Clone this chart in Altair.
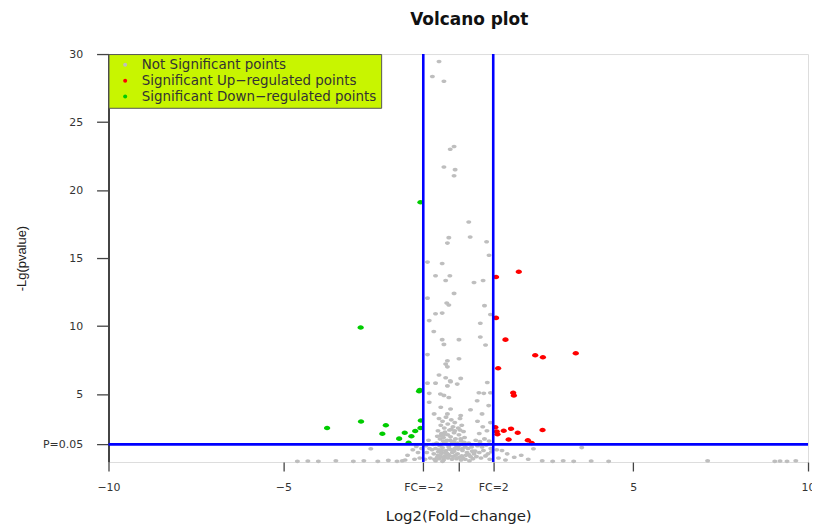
import json
import altair as alt
import pandas as pd

# ---------------- data ----------------
gray_x = [
    -0.55, -0.74, -0.41, -0.12, -0.23, -0.41, -0.09, -0.12, 0.30, 0.34, -0.27, -0.31, 0.81, 0.88,
    -0.88, -0.46, -0.65, -0.24, -0.36, 0.45, 0.71, -0.12, -0.88, -0.33, -0.27, 0.75, -0.65, -0.46,
    0.92, -0.83, 0.63, -0.70, -0.46, 0.02, 0.63, -0.41, 0.78, -0.88, 0.02, -0.31, -0.36, -0.31,
    -0.55, -0.36, 0.07, -0.88, -0.65, -0.22, -0.31, 0.83, -0.83, 0.59, 0.73, 0.92, -0.41, -0.27,
    -0.23, -0.03, -0.51, 0.54, -0.83, -0.5, -0.22, 0.35, 0.87, -0.69, -0.31, 0.07, 0.68,
    -0.55, -0.45, -0.35, -0.2, -0.1, 0.05, -0.5, -0.4, -0.3, -0.15, 0.0, 0.1,
    -0.58, -0.48, -0.38, -0.25, -0.12, 0.02, 0.15, -0.6, -0.52, -0.42, -0.32, -0.22, -0.08, 0.08, 0.18,
    -0.62, -0.5, -0.4, -0.28, -0.18, -0.05, 0.1, 0.2, -0.65, -0.55, -0.45, -0.35, -0.25, -0.12, 0.0, 0.12, 0.25,
    -0.7, -0.58, -0.48, -0.38, -0.28, -0.15, -0.02, 0.1, 0.22, 0.35, -0.8, -0.68, -0.55, -0.42, -0.3, -0.18, -0.05, 0.08, 0.2, 0.32,
    -0.9, -0.92, -0.85, -0.95, 0.4, 0.3,
    0.5, 0.62, 0.75, 0.88, 0.55, 0.68, 0.8, 0.93, 0.48, 0.6, 0.72, 0.85, 0.95, 0.52, 0.65, 0.78, 0.9, 0.6, 0.82, 0.7, 0.92, 0.55,
    -1.05, -1.15, -1.3, -1.45, -1.1, -1.25, -1.52, -1.2, 1.1, 1.25, 1.4, 1.6, 1.15, 1.8, 2.15, 2.0, 1.35, -2.5, 3.53,
    -4.6, -4.3, -4.0, -3.5, -3.0, -2.7, -2.3, -2.0, -1.75, -1.6, 2.4, 2.7, 3.0, 3.3, 3.8, 4.3, 7.13, 9.05, 9.2, 9.4, 9.65,
    -0.6, -0.5, -0.42, -0.33, -0.25, -0.17, -0.08, 0.03, 0.13,
    -0.57, -0.47, -0.37, -0.27, -0.2, -0.1, 0.0, 0.12,
    -0.53, -0.43, -0.33, -0.23, -0.13, -0.03, 0.07, 0.17,
    -0.5, -0.4, -0.3, -0.2, -0.1, 0.05, 0.28, 0.38, 0.45, -0.75, -0.82, -0.72, 0.42, 0.3, -0.65, -0.45,
]
gray_y = [
    29.45, 28.35, 28.0, 23.2, 23.0, 21.7, 21.5, 21.05, 17.65, 16.55, 16.5, 16.1, 16.2, 15.2,
    14.7, 14.6, 13.7, 13.7, 13.35, 13.2, 13.35, 12.4, 12.05, 11.7, 11.55, 11.5, 10.9, 10.95,
    10.85, 10.4, 10.2, 9.6, 9.0, 9.0, 9.2, 8.65, 8.6, 7.9, 7.6, 7.45, 7.2, 7.0,
    6.4, 6.2, 6.15, 5.8, 5.8, 5.9, 5.6, 5.85, 5.05, 5.1, 5.05, 5.1, 4.9, 4.75,
    5.97, 5.73, 5.0, 4.51, 4.39, 4.03, 3.9, 3.85, 4.15, 3.54, 3.54, 3.42, 3.54,
    3.2, 3.0, 3.3, 3.1, 2.9, 3.2, 2.7, 2.5, 2.8, 2.6, 2.5, 2.7,
    2.3, 2.1, 2.2, 2.35, 2.15, 2.0, 2.25, 1.9, 1.7, 1.8, 1.6, 1.85, 1.7, 1.55, 1.8,
    1.4, 1.3, 1.45, 1.25, 1.4, 1.2, 1.3, 1.1, 1.0, 0.9, 1.05, 0.85, 0.95, 0.8, 0.95, 0.85, 0.7,
    0.6, 0.5, 0.65, 0.45, 0.55, 0.4, 0.6, 0.45, 0.5, 0.4, 0.3, 0.2, 0.25, 0.15, 0.3, 0.2, 0.25, 0.15, 0.2, 0.1,
    0.7, 1.2, 1.6, 0.2, 0.8, 1.4,
    1.6, 1.5, 1.7, 1.55, 1.2, 1.1, 1.25, 1.0, 0.8, 0.7, 0.85, 0.6, 0.75, 0.4, 0.3, 0.45, 0.2, 2.1, 2.3, 2.6, 2.9, 3.0,
    1.0, 0.7, 0.9, 0.5, 0.3, 0.2, 0.15, 1.15, 0.9, 0.85, 0.6, 0.35, 0.3, 0.5, 0.98, 0.2, 0.15, 0.98, 1.06,
    0.05, 0.08, 0.05, 0.1, 0.05, 0.1, 0.05, 0.12, 0.05, 0.1, 0.1, 0.05, 0.1, 0.05, 0.08, 0.05, 0.1, 0.05, 0.08, 0.05, 0.1,
    0.35, 0.4, 0.3, 0.65, 0.45, 0.7, 0.5, 0.35, 0.3,
    0.75, 0.85, 0.7, 1.1, 0.9, 1.0, 1.15, 1.0,
    1.2, 1.55, 1.35, 1.6, 1.5, 1.4, 1.7, 1.45,
    1.95, 2.05, 2.0, 2.4, 2.3, 2.35, 1.0, 1.1, 0.6, 0.9, 1.0, 1.3, 0.25, 0.55, 0.1, 0.05,
]

up_x = [1.73, 1.08, 1.08, 1.35, 2.20, 2.42, 3.36, 1.14, 1.57, 1.59,
        1.06, 1.10, 1.12, 1.30, 1.51, 1.70, 2.41, 1.44, 1.99, 2.10]
up_y = [14.0, 13.6, 10.6, 9.0, 7.85, 7.7, 8.0, 6.9, 5.1, 4.9,
        2.55, 2.25, 2.05, 2.3, 2.45, 2.15, 2.35, 1.65, 1.6, 1.4]

down_x = [-1.08, -1.12, -1.10, -2.79, -3.75, -2.78, -2.07, -2.17,
          -1.53, -1.23, -1.34, -1.69, -1.42, -1.07, -1.08]
down_y = [19.1, 5.2, 5.3, 9.9, 2.5, 2.98, 2.7, 2.08,
          2.15, 2.28, 1.9, 1.72, 1.42, 3.05, 2.5]

groups = ["Not Significant points",
          "Significant Up\u2212regulated points",
          "Significant Down\u2212regulated points"]
group_colors = ["#bebebe", "#ff0000", "#00cc00"]

fc_cut = [-1, 1]          # log2(FC) thresholds (FC = 2)
p_cut = [1.30103]         # -log10(0.05)

x_ticks = [-10, -5, -1, 0, 1, 5, 10]
x_tick_labels = ["\u221210", "\u22125", "FC=\u22122", "", "FC=2", "5", "10"]
y_ticks = [1.30103, 5, 10, 15, 20, 25, 30]
y_tick_labels = ["P=0.05", "5", "10", "15", "20", "25", "30"]

# ---------------- tables ----------------
gray_df = pd.DataFrame({"x": gray_x, "y": gray_y, "group": groups[0]})
sig_df = pd.concat([
    pd.DataFrame({"x": up_x, "y": up_y, "group": groups[1]}),
    pd.DataFrame({"x": down_x, "y": down_y, "group": groups[2]}),
], ignore_index=True)
vline_df = pd.DataFrame({"x": fc_cut})
hline_df = pd.DataFrame({"y": p_cut})

x_expr = "{}[indexof({}, datum.value)]".format(
    json.dumps(x_tick_labels, ensure_ascii=False), json.dumps(x_ticks))
y_expr = "{}[indexof({}, datum.value)]".format(
    json.dumps(y_tick_labels, ensure_ascii=False), json.dumps(y_ticks))

x_enc = alt.X("x:Q",
              scale=alt.Scale(domain=[-10, 10], nice=False, zero=False),
              axis=alt.Axis(values=x_ticks, labelExpr=x_expr, title="Log2(Fold\u2212change)",
                            domain=False, grid=False, tickSize=9, tickWidth=1.3, tickColor="#444",
                            labelPadding=11, labelFlush=False, labelOverlap=False,
                            labelFont="DejaVu Sans", labelFontSize=11, labelColor="#333",
                            titleFont="DejaVu Sans", titleFontSize=15, titleFontWeight="normal",
                            titleColor="#222", titleX=351.5, titleY=54,
                            titleBaseline="middle", titleAlign="center"))
y_enc = alt.Y("y:Q",
              scale=alt.Scale(domain=[0, 30], nice=False, zero=False),
              axis=alt.Axis(values=y_ticks, labelExpr=y_expr, title="-Lg(pvalue)",
                            domain=True, domainColor="#444", domainWidth=2, grid=False,
                            tickSize=12, tickWidth=1.3, tickColor="#444",
                            labelPadding=14, labelFlush=False, labelOverlap=False,
                            labelFont="DejaVu Sans", labelFontSize=11, labelColor="#333",
                            titleFont="Liberation Sans", titleFontSize=13, titleFontWeight="normal",
                            titleColor="#222", titleX=-87, titleY=205, titleAngle=270,
                            titleBaseline="middle", titleAlign="center"))

color_enc = alt.Color("group:N",
                      scale=alt.Scale(domain=groups, range=group_colors),
                      legend=alt.Legend(title=None, orient="none", legendX=0, legendY=0,
                                        fillColor="#c8f500", strokeColor="#555",
                                        padding=4, symbolType="circle", symbolSize=16,
                                        symbolStrokeWidth=0, symbolOffset=6, labelOffset=10,
                                        labelFont="DejaVu Sans", labelFontSize=13.5,
                                        labelColor="#333", rowPadding=1, labelLimit=500))

ellipse = "M-1,0A1,0.72,0,1,0,1,0A1,0.72,0,1,0,-1,0Z"

gray_layer = alt.Chart(gray_df).mark_point(
    shape=ellipse, filled=True, opacity=1, size=25, strokeWidth=0
).encode(x=x_enc, y=y_enc, color=color_enc)

sig_layer = alt.Chart(sig_df).mark_point(
    shape=ellipse, filled=True, opacity=1, size=40, strokeWidth=0
).encode(x="x:Q", y="y:Q", color=color_enc)

vlines = alt.Chart(vline_df).mark_rule(color="#0000ff", strokeWidth=2.6).encode(x="x:Q")
hline = alt.Chart(hline_df).mark_rule(color="#0000ff", strokeWidth=2.6).encode(y="y:Q")

chart = alt.layer(gray_layer, sig_layer, vlines, hline).properties(
    width=703, height=410,
    padding={"left": 101, "top": 45, "right": 4, "bottom": 63},
    autosize=alt.AutoSizeParams(type="none"),
    title=alt.TitleParams("Volcano plot", font="DejaVu Sans", fontSize=17, fontWeight="bold",
                          color="#111", anchor="middle", frame="group", offset=19, dx=11),
).configure_view(stroke="#555", strokeWidth=2.5, strokeOpacity=1).configure(background="white")

chart.save("out.html", embed_options={"renderer": "svg", "actions": False})
